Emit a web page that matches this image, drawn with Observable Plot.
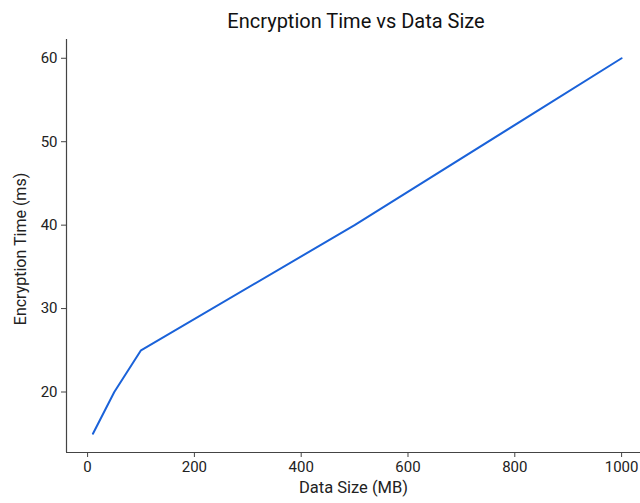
<!DOCTYPE html>
<html><head><meta charset="utf-8">
<script src="https://cdn.jsdelivr.net/npm/d3@7"></script>
<script src="https://cdn.jsdelivr.net/npm/@observablehq/plot@0.6"></script>
<style>
body{margin:0;background:#fff;font-family:Roboto,"Open Sans",sans-serif;}
#wrap{position:relative;width:640px;height:503px;overflow:hidden;}
#title{position:absolute;top:9px;left:356px;transform:translateX(-50%);white-space:nowrap;font-size:20px;color:#111;}
</style></head>
<body><div id="wrap"><div id="title">Encryption Time vs Data Size</div><div id="chart"></div></div>
<script>
const dataSize = [10, 50, 100, 500, 1000];
const encTime = [15, 20, 25, 40, 60];
const xTicks = [0, 200, 400, 600, 800, 1000];
const yTicks = [20, 30, 40, 50, 60];
const data = dataSize.map((d, i) => ({x: d, y: encTime[i]}));
const xDom = [-39.5, 1035.4];
const yDom = [12.75, 62.25];
const chart = Plot.plot({
  width: 640, height: 503,
  marginTop: 39, marginBottom: 51, marginLeft: 66, marginRight: 0,
  style: {fontFamily: "Roboto, 'Open Sans', sans-serif", fontSize: "14px", color: "#222", background: "#fff"},
  x: {domain: xDom},
  y: {domain: yDom},
  marks: [
    Plot.axisX({ticks: xTicks, tickFormat: d => String(d), tickSize: 5, tickPadding: 4, fontSize: 15, label: null, stroke: "#444"}),
    Plot.axisY({ticks: yTicks, tickFormat: d => String(d), tickSize: 5, tickPadding: 4, fontSize: 15, label: null, stroke: "#444"}),
    Plot.ruleX([xDom[0]], {stroke: "#444", strokeWidth: 1.2}),
    Plot.ruleY([yDom[0]], {stroke: "#444", strokeWidth: 1.2}),
    Plot.text(["Data Size (MB)"], {frameAnchor: "bottom", dy: 40, fontSize: 16.5, fill: "#222"}),
    Plot.text(["Encryption Time (ms)"], {frameAnchor: "left", textAnchor: "middle", dx: -46, dy: 3, rotate: -90, fontSize: 16, fill: "#222"}),
    Plot.line(data, {x: "x", y: "y", stroke: "#1a62d9", strokeWidth: 2})
  ]
});
document.getElementById("chart").appendChild(chart);
</script></body></html>
